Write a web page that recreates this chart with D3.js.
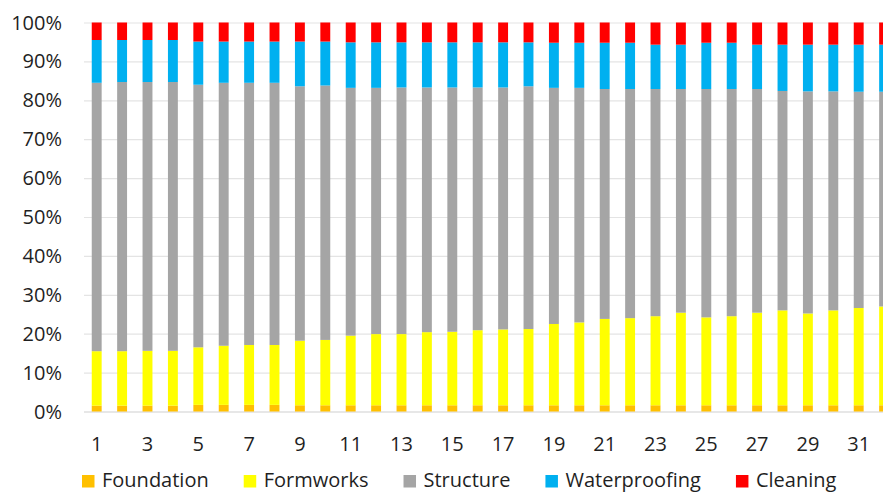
<!DOCTYPE html>
<html>
<head>
<meta charset="utf-8">
<script src="https://cdn.jsdelivr.net/npm/d3@7"></script>
<style>
  body { margin: 0; background: #fff; }
  svg { display: block; font-family: "Open Sans", "Noto Sans", sans-serif; }
</style>
</head>
<body>
<div id="chart"></div>
<script>
(function() {
  // data (percent of each period)
  var periods = d3.range(1, 33);
  var seriesNames = ["Foundation", "Formworks", "Structure", "Waterproofing", "Cleaning"];
  var seriesColors = ["#FFC000", "#FFFF00", "#A5A5A5", "#00B0F0", "#FF0000"];

  var foundation = [1.5, 1.5, 1.5, 1.5, 1.7, 1.7, 1.7, 1.7, 1.6, 1.6, 1.6, 1.6, 1.6, 1.6, 1.6, 1.6,
                    1.6, 1.6, 1.6, 1.6, 1.6, 1.6, 1.6, 1.6, 1.6, 1.6, 1.6, 1.6, 1.6, 1.6, 1.6, 1.6];
  var formworks = [14.0, 14.0, 14.1, 14.1, 14.8, 15.2, 15.4, 15.4, 16.6, 16.8, 17.9, 18.3, 18.3, 18.8, 18.9, 19.3,
                   19.5, 19.6, 20.9, 21.3, 22.2, 22.4, 22.9, 23.8, 22.6, 22.9, 23.8, 24.4, 23.6, 24.4, 25.0, 25.4];
  var structure = [69.0, 69.2, 69.1, 69.1, 67.5, 67.6, 67.4, 67.4, 65.4, 65.4, 63.7, 63.3, 63.4, 62.9, 62.8, 62.4,
                   62.2, 62.4, 60.7, 60.3, 59.1, 58.9, 58.4, 57.5, 58.7, 58.4, 57.5, 56.4, 57.1, 56.3, 55.6, 55.2];
  var waterproofing = [11.0, 10.8, 10.8, 10.8, 11.1, 10.6, 10.6, 10.6, 11.5, 11.3, 11.7, 11.7, 11.6, 11.6, 11.6, 11.6,
                       11.6, 11.3, 11.6, 11.6, 11.9, 11.9, 11.4, 11.4, 11.9, 11.9, 11.4, 11.9, 12.0, 12.0, 12.1, 12.1];
  var cleaning = [4.5, 4.5, 4.5, 4.5, 4.9, 4.9, 4.9, 4.9, 4.9, 4.9, 5.1, 5.1, 5.1, 5.1, 5.1, 5.1,
                  5.1, 5.1, 5.2, 5.2, 5.2, 5.2, 5.7, 5.7, 5.2, 5.2, 5.7, 5.7, 5.7, 5.7, 5.7, 5.7];
  var yTicks = [0, 10, 20, 30, 40, 50, 60, 70, 80, 90, 100];

  var seriesValues = [foundation, formworks, structure, waterproofing, cleaning];
  var rows = periods.map(function(p, i) {
    var r = { period: p };
    seriesNames.forEach(function(n, j) { r[n] = seriesValues[j][i]; });
    return r;
  });

  var width = 883, height = 493;
  var svg = d3.select("#chart").append("svg")
              .attr("width", width)
              .attr("height", height);

  var x = d3.scaleBand()
            .domain(periods)
            .range([84, 84 + 25.4 * periods.length])
            .paddingInner(0.61)
            .paddingOuter(0.305);

  var y = d3.scaleLinear()
            .domain([0, 100])
            .range([411.5, 22.5]);

  // gridlines
  svg.append("g").selectAll("line")
     .data(yTicks)
     .enter()
     .append("line")
     .attr("x1", x.range()[0])
     .attr("x2", x.range()[1])
     .attr("y1", function(d) { return y(d) + 0.5; })
     .attr("y2", function(d) { return y(d) + 0.5; })
     .attr("stroke", function(d) { return d === 0 ? "#cfcfcf" : "#e4e4e4"; })
     .attr("stroke-width", 1.2);

  // y labels
  svg.append("g").selectAll("text")
     .data(yTicks)
     .enter()
     .append("text")
     .attr("x", 62)
     .attr("y", function(d) { return y(d); })
     .attr("dy", "0.35em")
     .attr("text-anchor", "end")
     .attr("font-size", 20)
     .attr("fill", "#1f1f1f")
     .text(function(d) { return d + "%"; });

  // stacked bars
  var stack = d3.stack().keys(seriesNames);
  var layers = stack(rows);

  var layerGroups = svg.append("g").selectAll("g")
     .data(layers)
     .enter()
     .append("g")
     .attr("fill", function(d, i) { return seriesColors[i]; });

  layerGroups.selectAll("rect")
     .data(function(d) { return d; })
     .enter()
     .append("rect")
     .attr("x", function(d) { return x(d.data.period); })
     .attr("width", x.bandwidth())
     .attr("y", function(d) { return y(d[1]); })
     .attr("height", function(d) { return y(d[0]) - y(d[1]); });

  // x labels, every other period
  svg.append("g").selectAll("text")
     .data(periods.filter(function(p) { return p % 2 === 1; }))
     .enter()
     .append("text")
     .attr("x", function(d) { return x(d) + x.bandwidth() / 2; })
     .attr("y", 451)
     .attr("text-anchor", "middle")
     .attr("font-size", 20)
     .attr("fill", "#1f1f1f")
     .text(function(d) { return d; });

  // legend
  var legend = svg.append("g");
  var lx = 82;
  seriesNames.forEach(function(name, i) {
    legend.append("rect")
          .attr("x", lx)
          .attr("y", 475)
          .attr("width", 12.5)
          .attr("height", 12.5)
          .attr("fill", seriesColors[i]);
    var t = legend.append("text")
          .attr("x", lx + 20)
          .attr("y", 487)
          .attr("font-size", 20)
          .attr("fill", "#1f1f1f")
          .text(name);
    lx += 20 + t.node().getComputedTextLength() + 35;
  });
})();
</script>
</body>
</html>
